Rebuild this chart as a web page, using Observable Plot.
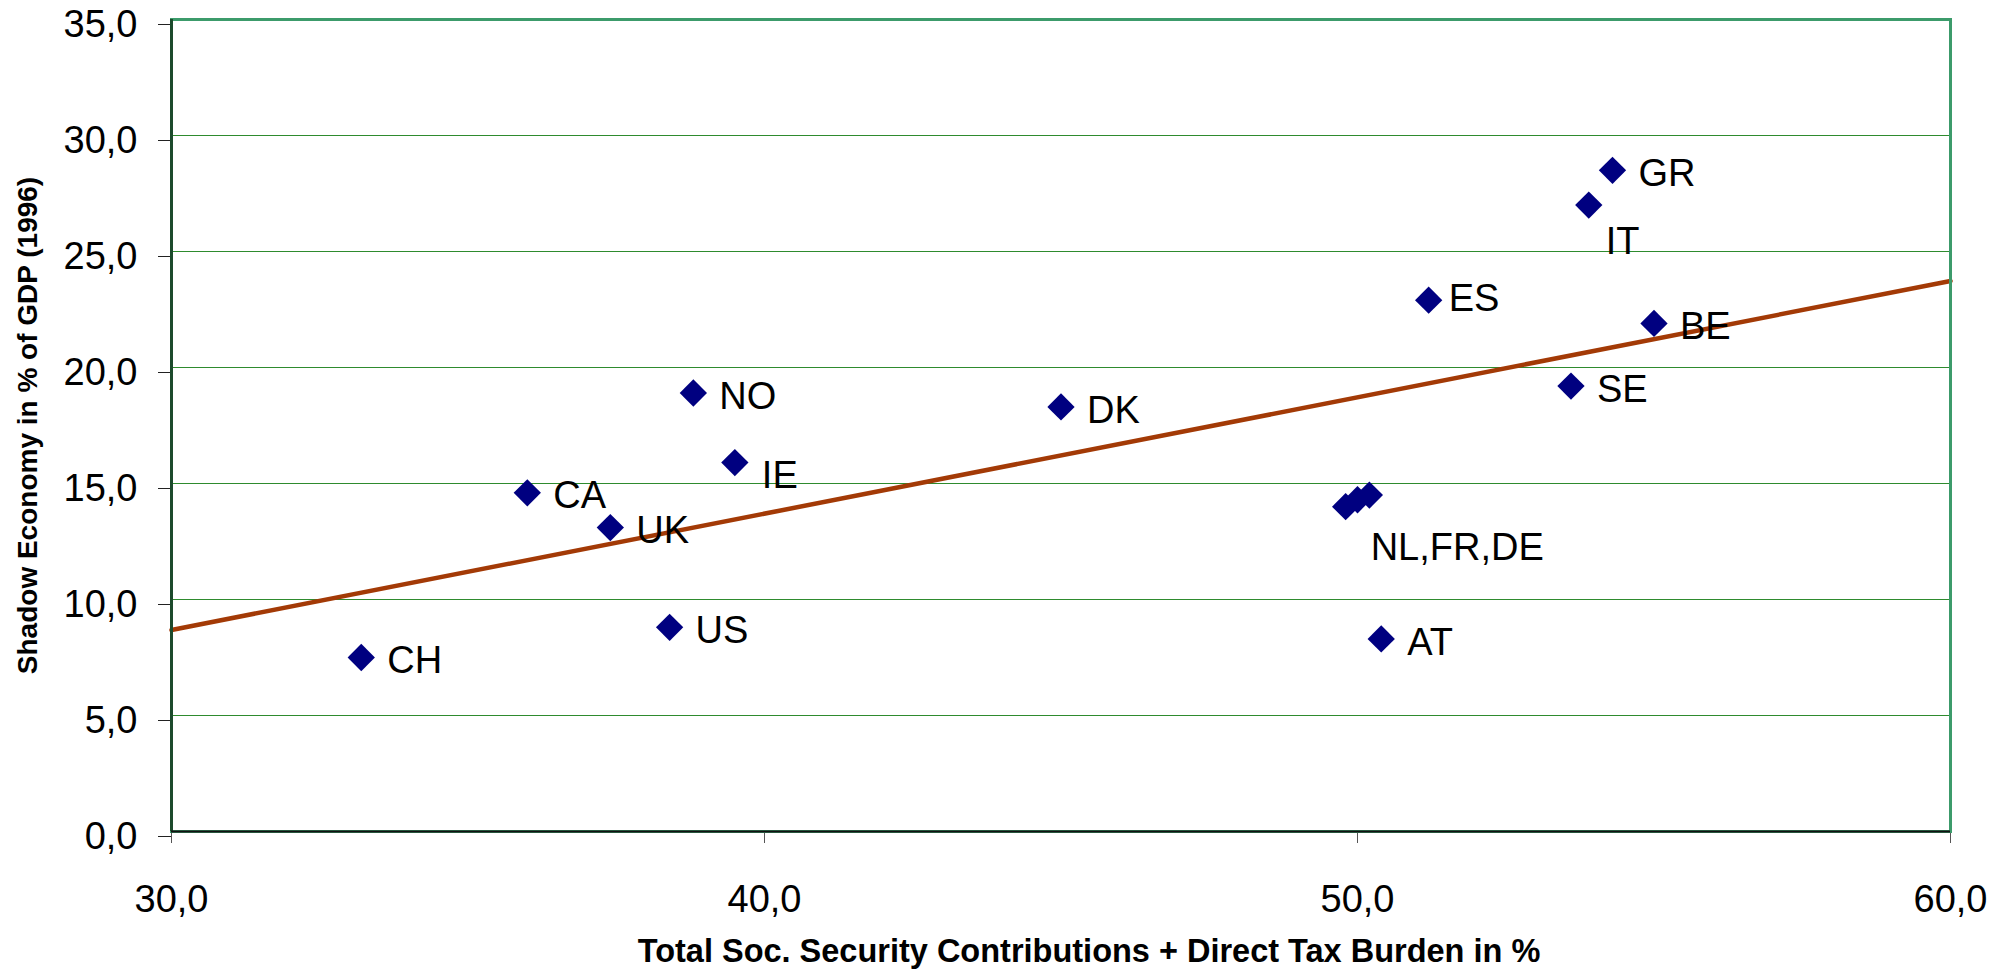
<!DOCTYPE html>
<html>
<head>
<meta charset="utf-8">
<script src="https://cdn.jsdelivr.net/npm/d3@7"></script>
<script src="https://cdn.jsdelivr.net/npm/@observablehq/plot@0.6"></script>
<style>
  html, body { margin: 0; padding: 0; background: #fff; }
  #chart svg { display: block; font-family: "Liberation Sans", Arial, sans-serif; }
</style>
</head>
<body>
<div id="chart"></div>
<script>
// ---- data ----
const countries = ["CH","CA","UK","US","NO","IE","DK","NL","FR","DE","AT","ES","SE","IT","GR","BE"];
const taxBurden = [33.2,36.0,37.4,38.4,38.8,39.5,45.0,49.8,50.0,50.2,50.4,51.2,53.6,53.9,54.3,55.0];
const shadowEconomy = [7.5,14.6,13.1,8.8,18.9,15.9,18.3,14.0,14.3,14.5,8.3,22.9,19.2,27.0,28.5,21.9];
const pointLabels = ["CH","CA","UK","US","NO","IE","DK","NL,FR,DE","","","AT","ES","SE","IT","GR","BE"];
const xTicks = [30, 40, 50, 60];
const yTicks = [0, 5, 10, 15, 20, 25, 30, 35];
const gridTicks = [5, 10, 15, 20, 25, 30];
const xTitle = "Total Soc. Security Contributions + Direct Tax Burden in %";
const yTitle = "Shadow Economy in % of GDP (1996)";

const data = countries.map((c, i) => ({country: c, x: taxBurden[i], y: shadowEconomy[i], label: pointLabels[i]}));

// linear regression (least squares) across the x domain
const mx = d3.mean(data, d => d.x), my = d3.mean(data, d => d.y);
const slope = d3.sum(data, d => (d.x - mx) * (d.y - my)) / d3.sum(data, d => (d.x - mx) ** 2);
const intercept = my - slope * mx;
const xDomain = [30, 60];
const trend = xDomain.map(x => ({x, y: intercept + slope * x}));

const fmt = d => d.toFixed(1).replace(".", ",");

// label offset groups (layout)
const special = {
  IE: {dx: 27, dy: 13},
  IT: {dx: 17, dy: 37},
  ES: {dx: 20, dy: -1.5},
  NL: {dx: 25, dy: 41}
};
const labelMarks = [];
labelMarks.push(Plot.text(data.filter(d => d.label && !special[d.country]), {
  x: "x", y: "y", text: "label", textAnchor: "start", dx: 26, dy: 3.5,
  fontSize: 38, fill: "#000"
}));
for (const [c, o] of Object.entries(special)) {
  labelMarks.push(Plot.text(data.filter(d => d.country === c), {
    x: "x", y: "y", text: "label", textAnchor: "start", dx: o.dx, dy: o.dy,
    fontSize: 38, fill: "#000"
  }));
}

const chart = Plot.plot({
  width: 2008,
  height: 970,
  marginLeft: 171,
  marginRight: 58,
  marginTop: 19,
  marginBottom: 139,
  style: {fontFamily: '"Liberation Sans", Arial, sans-serif', background: "#fff"},
  x: {domain: xDomain},
  y: {domain: [0, 35]},
  marks: [
    Plot.ruleY(gridTicks, {stroke: "#2e8b2e", strokeWidth: 1.2}),
    Plot.axisY(yTicks, {
      tickSize: 13, tickPadding: 21, tickFormat: fmt, fontSize: 38,
      stroke: "#222", fill: "#000", dy: 5, label: null
    }),
    Plot.axisX(xTicks, {
      tickSize: 12, tickPadding: 42, tickFormat: fmt, fontSize: 38,
      stroke: "#555", fill: "#000", label: null
    }),
    Plot.line(trend, {x: "x", y: "y", stroke: "#a33a06", strokeWidth: 4.5}),
    Plot.dot(data, {x: "x", y: "y", symbol: "diamond2", r: 12.3, fill: "#000080", stroke: "none"}),
    ...labelMarks,
    Plot.frame({stroke: "#3c9b6b", strokeWidth: 3}),
    Plot.ruleX([30], {stroke: "#1c4a2c", strokeWidth: 3}),
    Plot.ruleY([0], {stroke: "#111", strokeWidth: 2}),
    Plot.text([yTitle], {
      frameAnchor: "left", rotate: -90, dx: -143, textAnchor: "middle", lineAnchor: "middle",
      fontSize: 28, fontWeight: "bold", fill: "#000"
    }),
    Plot.text([xTitle], {
      frameAnchor: "bottom", dx: 28, dy: 120, textAnchor: "middle", lineAnchor: "middle",
      fontSize: 32.5, fontWeight: "bold", fill: "#000"
    })
  ]
});
document.getElementById("chart").appendChild(chart);
</script>
</body>
</html>
